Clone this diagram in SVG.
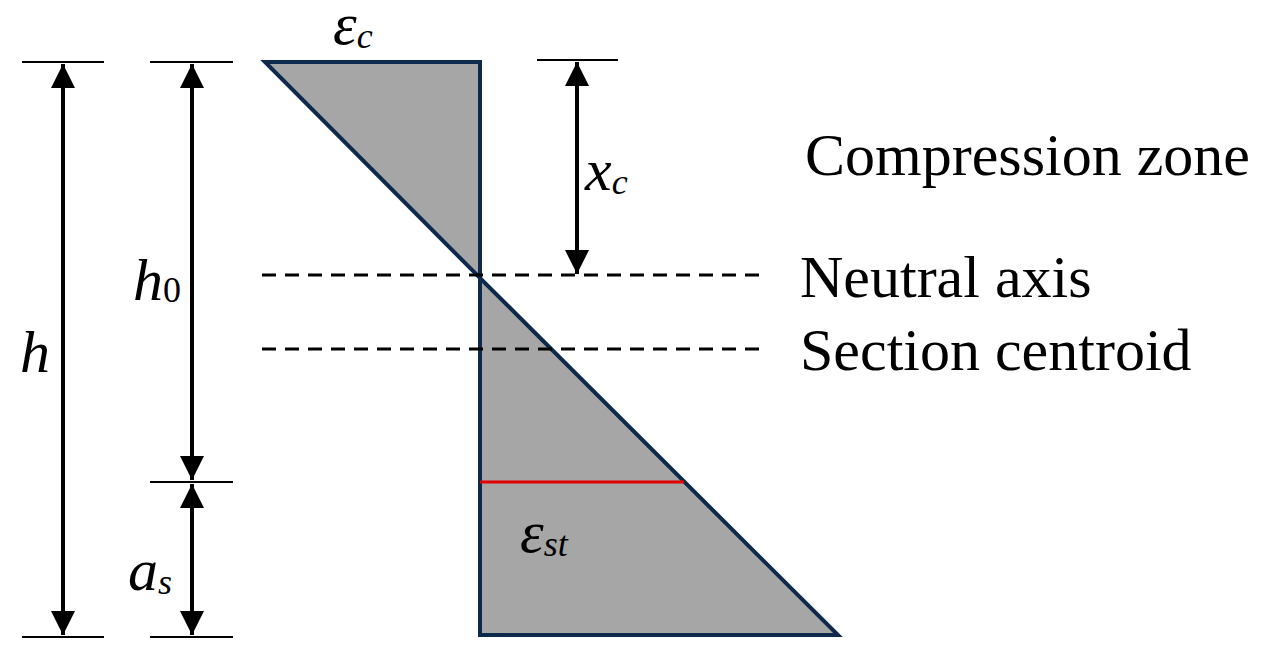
<svg xmlns="http://www.w3.org/2000/svg" width="1264" height="666" viewBox="0 0 1264 666">
<style>
.t{font-family:"Liberation Serif",serif;font-size:60px;fill:#000}
.i{font-family:"Liberation Serif",serif;font-style:italic;font-size:60px;fill:#000}
.s{font-size:36px}
.dim{stroke:#000;stroke-width:4;fill:none}
.tk{stroke:#000;stroke-width:2;fill:none}
.dash{stroke:#000;stroke-width:3;stroke-dasharray:14 9;fill:none}
</style>
<defs>
<marker id="a" viewBox="0 0 10 10" refX="10" refY="5" markerWidth="7.5" markerHeight="6" markerUnits="strokeWidth" orient="auto-start-reverse"><path d="M0,0L10,5L0,10z" fill="#000"/></marker>
</defs>
<rect width="1264" height="666" fill="#fff"/>
<g id="diagram">
<polygon points="265,62 480,62 480,278" fill="#a6a6a6" stroke="#0d2a4d" stroke-width="4"/>
<polygon points="480,278 480,635 838,635" fill="#a6a6a6" stroke="#0d2a4d" stroke-width="4"/>
<line x1="480" y1="482" x2="684" y2="482" stroke="#e00000" stroke-width="3"/>
</g>
<g id="connectors">
<line class="tk" x1="22" y1="62" x2="104" y2="62"/>
<line class="tk" x1="22" y1="637" x2="104" y2="637"/>
<line class="tk" x1="150" y1="62" x2="233" y2="62"/>
<line class="tk" x1="150" y1="482" x2="233" y2="482"/>
<line class="tk" x1="150" y1="637" x2="233" y2="637"/>
<line class="tk" x1="537" y1="60" x2="618" y2="60"/>
<line class="dim" x1="63" y1="64" x2="63" y2="635" marker-start="url(#a)" marker-end="url(#a)"/>
<line class="dim" x1="192" y1="64" x2="192" y2="480" marker-start="url(#a)" marker-end="url(#a)"/>
<line class="dim" x1="192" y1="484" x2="192" y2="635" marker-start="url(#a)" marker-end="url(#a)"/>
<line class="dim" x1="577" y1="62" x2="577" y2="274" marker-start="url(#a)" marker-end="url(#a)"/>
<line class="dash" x1="262" y1="275" x2="765" y2="275"/>
<line class="dash" x1="262" y1="349" x2="765" y2="349"/>
</g>
<g id="labels">
<text class="t" x="805" y="175">Compression zone</text>
<text class="t" x="800" y="297">Neutral axis</text>
<text class="t" x="800" y="370">Section centroid</text>
<text class="i" x="20" y="372">h</text>
<text class="i" x="133" y="300">h<tspan class="s" font-style="normal" dy="2">0</tspan></text>
<text class="i" x="128" y="590">a<tspan class="s" dy="4">s</tspan></text>
<text class="i" x="585" y="190">x<tspan class="s" dy="4">c</tspan></text>
<text class="i" x="333" y="44" font-size="54">ε<tspan class="s" dy="4">c</tspan></text>
<text class="i" x="520" y="552">ε<tspan class="s" dy="4">st</tspan></text>
</g>
</svg>
